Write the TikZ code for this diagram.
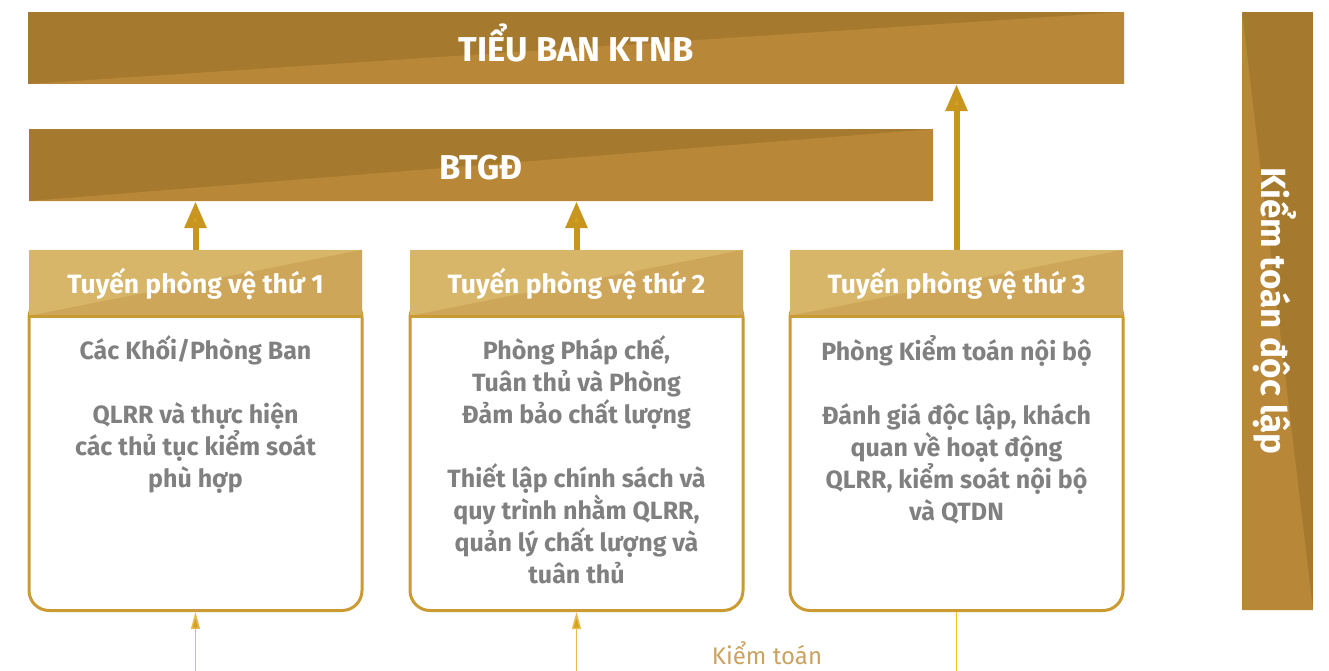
\documentclass[tikz,border=0pt]{standalone}
\usepackage{fontspec}
\setmainfont{Fira Sans}
\usetikzlibrary{positioning,arrows.meta}
\begin{document}
\begin{tikzpicture}[x=1pt,y=1pt,line join=round,
	twotone/.style 2 args={fill=#1,path picture={\fill[#2](path picture bounding box.south west)--(path picture bounding box.south east)--(path picture bounding box.north east)--cycle;}},
	banner/.style={twotone={banddark}{bandlight},text=white,font=\fontsize{34.5}{34.5}\selectfont\bfseries,inner sep=0pt,minimum height=72pt,text height=28pt,text depth=0pt},
	head/.style={twotone={headlight}{headdark},text=white,font=\fontsize{26.5}{26.5}\selectfont\bfseries,inner sep=0pt,minimum width=333pt,minimum height=66pt,text height=24pt,text depth=2pt},
	bodybox/.style={draw=goldline,line width=3pt,rounded corners=20pt,minimum width=333pt,minimum height=313pt,inner sep=0pt},
	bodytext/.style={text=txtgray,font=\fontsize{25}{32}\selectfont\bfseries,align=center,inner sep=0pt},
	uparrow/.style={draw=arrowgold,line width=6pt,-{Triangle[length=27pt,width=21pt,fill=tipgold]}},
	inarrow/.style={draw=thingold,line width=1.5pt,-{Triangle[length=17pt,width=9pt,fill=tipgold]}}]
	\definecolor{banddark}{HTML}{A67A2E}
	\definecolor{bandlight}{HTML}{B98738}
	\definecolor{headlight}{HTML}{D8B669}
	\definecolor{headdark}{HTML}{CEA65A}
	\definecolor{goldline}{HTML}{C99B32}
	\definecolor{arrowgold}{HTML}{C8961E}
	\definecolor{tipgold}{HTML}{D4A222}
	\definecolor{thingold}{HTML}{E9BC4E}
	\definecolor{auditline}{HTML}{F5C518}
	\definecolor{txtgray}{HTML}{808080}
	\definecolor{audittext}{HTML}{C9A35F}
	\useasboundingbox(0,0)rectangle(1329,-671);
	
	% hang tren
	\node[banner,minimum width=1096pt](ktnb) at (576,-48){TIỂU BAN KTNB};
	\node[banner,minimum width=904pt](btgd) at (481,-165){BTGĐ};
	
	% ba tuyen phong ve
	\foreach \n/\x in {1/195.5,2/576.5,3/956.5}{
		\node[bodybox,anchor=north](b\n) at (\x,-296){};
		\node[head,anchor=south](h\n) at (\x,-316){Tuyến phòng vệ thứ \n};
		\draw[goldline,line width=3pt](h\n.south west)--(h\n.south east);
	}
	\node[bodytext,below=19pt of h1](t1){Các Khối/Phòng Ban\\[32pt]QLRR và thực hiện\\các thủ tục kiểm soát\\phù hợp};
	\node[bodytext,below=19pt of h2](t2){Phòng Pháp chế,\\Tuân thủ và Phòng\\Đảm bảo chất lượng\\[32pt]Thiết lập chính sách và\\quy trình nhằm QLRR,\\quản lý chất lượng và\\tuân thủ};
	\node[bodytext,below=19pt of h3](t3){Phòng Kiểm toán nội bộ\\[32pt]Đánh giá độc lập, khách\\quan về hoạt động\\QLRR, kiểm soát nội bộ\\và QTDN};
	
	% mui ten len
	\draw[uparrow](h1.north)--(h1.north|-btgd.south);
	\draw[uparrow](h2.north)--(h2.north|-btgd.south);
	\draw[uparrow](h3.north)--(h3.north|-ktnb.south);
	
	% kiem toan ben duoi
	\coordinate(in1) at (195.5,-671);
	\coordinate(in2) at (576.5,-671);
	\coordinate(out3) at (956.5,-671);
	\draw[inarrow](in1)--(b1.south);
	\draw[inarrow](in2)--(b2.south);
	\draw[auditline,line width=1.5pt](b3.south)--(out3);
	\node[text=audittext,font=\fontsize{24}{24}\selectfont](audit) at (767,-653){Kiểm toán};
	
	% kiem toan doc lap
	\node[fill=banddark,minimum width=71pt,minimum height=598pt,inner sep=0pt,
		path picture={\fill[bandlight](path picture bounding box.north west)--(path picture bounding box.south east)--(path picture bounding box.south west)--cycle;}](indep) at (1277.5,-311){};
	\node[rotate=-90,text=white,font=\fontsize{35}{35}\selectfont\bfseries](indeptext) at ([xshift=-3pt]indep.center){Kiểm toán độc lập};
\end{tikzpicture}
\end{document}
